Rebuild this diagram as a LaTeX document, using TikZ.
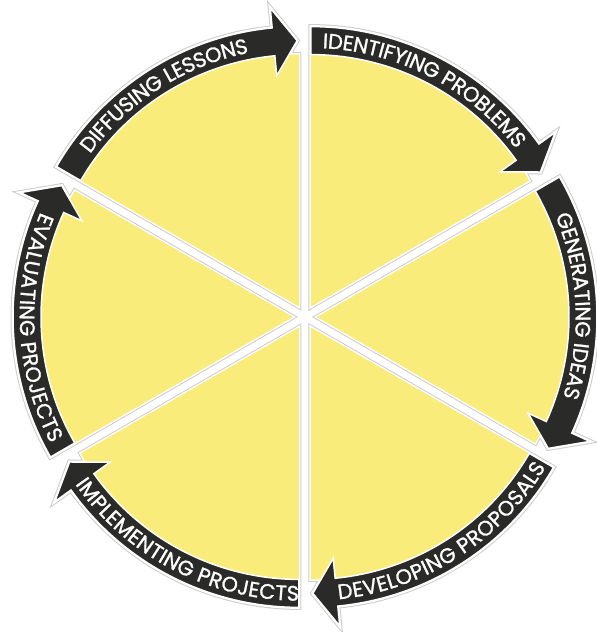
\documentclass[tikz,border=0pt]{standalone}
\usepackage{fontspec}
\newfontfamily\bandfont{Poppins}[FakeBold=1.2]
\usetikzlibrary{decorations.text}
\definecolor{petal}{HTML}{FAEC7A}
\definecolor{bandink}{HTML}{2A2A28}
\tikzset{
  halo/.style={draw=gray!40, line width=5pt},
  rim/.style={draw=white, line width=3pt},
  wedge/.style={fill=petal},
  band/.style={fill=bandink, draw=white, line width=1.5pt},
  bandtext/.style={decorate, decoration={text along path, text align=center, text color=white, raise=-7.3pt, text={|\bandfont\fontsize{21}{24}\selectfont|#1}}}
}

\begin{document}
\begin{tikzpicture}[x=1pt, y=1pt]
  \useasboundingbox (-305,-315) rectangle (292,317);
  % six exploded wedges, arrows run clockwise
  \foreach \a in {90,30,-30,-90,-150,150}{
    \begin{scope}[shift={(\a-30:12)}]
      \path[halo] (0,0) -- (\a:252) arc[start angle=\a, end angle=\a-60, radius=252] -- cycle
        (\a:280) arc[start angle=\a, end angle=\a-54.5, radius=280] -- (\a-54.5:300) -- (\a-59.6:266)
        -- (\a-54.5:232) -- (\a-54.5:252) arc[start angle=\a-54.5, end angle=\a, radius=252] -- cycle;
      \path[rim] (0,0) -- (\a:252) arc[start angle=\a, end angle=\a-60, radius=252] -- cycle
        (\a:280) arc[start angle=\a, end angle=\a-54.5, radius=280] -- (\a-54.5:300) -- (\a-59.6:266)
        -- (\a-54.5:232) -- (\a-54.5:252) arc[start angle=\a-54.5, end angle=\a, radius=252] -- cycle;
      \path[wedge] (0,0) -- (\a:252) arc[start angle=\a, end angle=\a-60, radius=252] -- cycle;
      \path[band] (\a:280) arc[start angle=\a, end angle=\a-54.5, radius=280] -- (\a-54.5:300) -- (\a-59.6:266)
        -- (\a-54.5:232) -- (\a-54.5:252) arc[start angle=\a-54.5, end angle=\a, radius=252] -- cycle;
    \end{scope}
  }
  % labels along the bands
  \path[shift={(60:12)}, bandtext={IDENTIFYING PROBLEMS}] (89.5:266) arc[start angle=89.5, end angle=35.5, radius=266];
  \path[shift={(0:12)}, bandtext={GENERATING IDEAS}] (29.5:266) arc[start angle=29.5, end angle=-24.5, radius=266];
  \path[shift={(-60:12)}, bandtext={DEVELOPING PROPOSALS}] (-84.5:266) arc[start angle=-84.5, end angle=-30.5, radius=266];
  \path[shift={(-120:12)}, bandtext={IMPLEMENTING PROJECTS}] (-144.5:266) arc[start angle=-144.5, end angle=-90.5, radius=266];
  \path[shift={(180:12)}, bandtext={EVALUATING PROJECTS}] (155.5:266) arc[start angle=155.5, end angle=209.5, radius=266];
  \path[shift={(120:12)}, bandtext={DIFFUSING LESSONS}] (149.5:266) arc[start angle=149.5, end angle=95.5, radius=266];
\end{tikzpicture}
\end{document}
